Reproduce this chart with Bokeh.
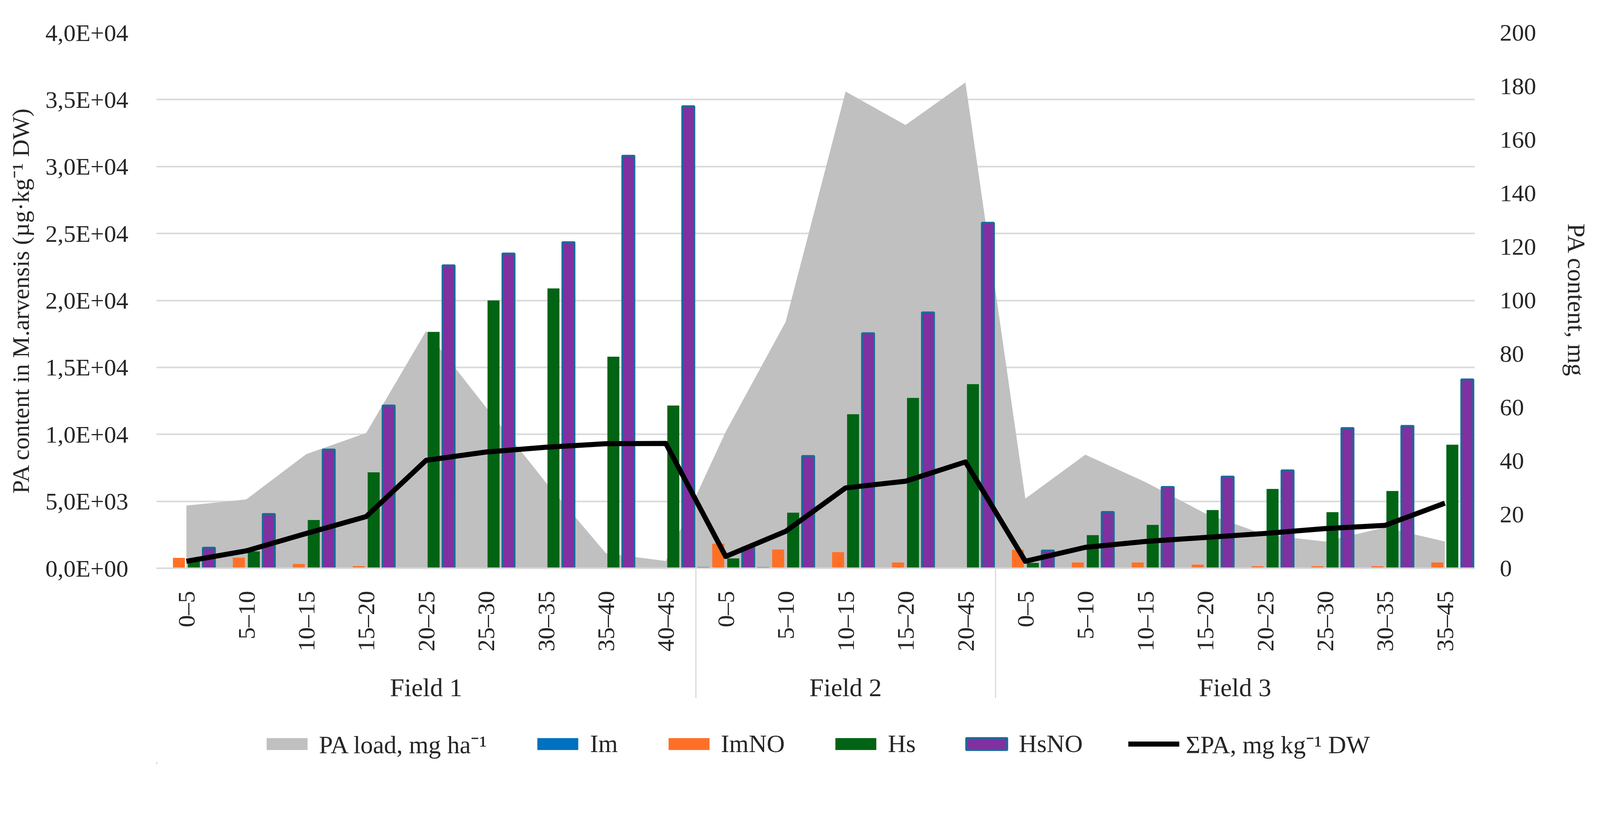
from math import pi

from bokeh.embed import file_html
from bokeh.layouts import column
from bokeh.models import (ColumnDataSource, FactorRange, FixedTicker, Legend,
                          LegendItem, LinearAxis, Range1d)
from bokeh.plotting import figure
from bokeh.resources import INLINE
from bokeh.transform import dodge

# categories
fields = ["Field 1", "Field 2", "Field 3"]
depths_f1 = ["0–5", "5–10", "10–15", "15–20", "20–25", "25–30", "30–35", "35–40", "40–45"]
depths_f2 = ["0–5", "5–10", "10–15", "15–20", "20–45"]
depths_f3 = ["0–5", "5–10", "10–15", "15–20", "20–25", "25–30", "30–35", "35–45"]

# bars, µg/kg DW (left axis)
im = [0, 0, 0, 0, 0, 0, 0, 0, 0,
      90, 90, 0, 0, 0,
      0, 0, 0, 0, 0, 0, 0, 0]
imno = [770, 790, 320, 160, 0, 0, 0, 0, 0,
        1830, 1400, 1200, 430, 0,
        1380, 430, 430, 270, 150, 150, 150, 430]
hs = [500, 1260, 3600, 7160, 17650, 20000, 20900, 15800, 12150,
      740, 4150, 11500, 12720, 13750,
      400, 2470, 3240, 4350, 5920, 4190, 5770, 9230]
hsno = [1530, 4050, 8860, 12150, 22620, 23500, 24350, 30800, 34500,
        1560, 8380, 17550, 19100, 25800,
        1320, 4200, 6070, 6840, 7310, 10470, 10630, 14100]

# right axis series
pa_load = [23.4, 25.7, 42.6, 50.5, 88.6, 60.1, 32.0, 5.6, 2.7,
           51.0, 92.0, 178.0, 165.5, 181.4,
           26.0, 42.4, 32.2, 20.5, 12.5, 10.0, 15.2, 10.0]
sum_pa = [2.6, 6.5, 13.0, 19.3, 40.3, 43.4, 45.2, 46.5, 46.6,
          4.4, 13.8, 30.0, 32.5, 39.7,
          2.6, 7.8, 10.0, 11.5, 13.0, 14.8, 16.0, 24.3]

left_ticks = [0, 5000, 10000, 15000, 20000, 25000, 30000, 35000, 40000]
left_tick_labels = ["0,0E+00", "5,0E+03", "1,0E+04", "1,5E+04", "2,0E+04",
                    "2,5E+04", "3,0E+04", "3,5E+04", "4,0E+04"]
right_ticks = [0, 20, 40, 60, 80, 100, 120, 140, 160, 180, 200]

series_names = ["PA load, mg ha⁻¹", "Im", "ImNO", "Hs", "HsNO", "ΣPA, mg kg⁻¹ DW"]

FONT = "Liberation Serif"
TXT = "#262626"
C_AREA, C_IM, C_IMNO, C_HS, C_HSNO, C_EDGE = ("#C0C0C0", "#0070C0", "#FF7027",
                                              "#006414", "#8030A0", "#1B6A9A")

factors = ([(fields[0], d) for d in depths_f1] +
           [(fields[1], d) for d in depths_f2] +
           [(fields[2], d) for d in depths_f3])

src = ColumnDataSource(data=dict(x=factors, im=im, imno=imno, hs=hs, hsno=hsno,
                                 load=pa_load, total=sum_pa))

p = figure(width=4076, height=1834, output_backend="svg", toolbar_location=None,
           x_range=FactorRange(*factors, factor_padding=0, group_padding=0,
                               subgroup_padding=0, range_padding=0),
           y_range=Range1d(0, 40000),
           min_border_left=400, min_border_right=301,
           min_border_top=83, min_border_bottom=380)
p.outline_line_color = None
p.extra_y_ranges = {"right": Range1d(0, 200)}

# grid
p.xgrid.grid_line_color = None
p.ygrid.ticker = FixedTicker(ticks=left_ticks)
p.ygrid.grid_line_color = "#D9D9D9"
p.ygrid.grid_line_width = 4

# area behind the bars
p.varea(x="x", y1=0, y2="load", source=src, y_range_name="right", fill_color=C_AREA)

w = 0.2
p.vbar(x=dodge("x", -0.375, range=p.x_range), top="im", width=w, source=src,
       fill_color=C_IM, line_color=None)
p.vbar(x=dodge("x", -0.125, range=p.x_range), top="imno", width=w, source=src,
       fill_color=C_IMNO, line_color=None)
p.vbar(x=dodge("x", 0.125, range=p.x_range), top="hs", width=w, source=src,
       fill_color=C_HS, line_color=None)
p.vbar(x=dodge("x", 0.375, range=p.x_range), top="hsno", width=w, source=src,
       fill_color=C_HSNO, line_color=C_EDGE, line_width=5)

p.line(x="x", y="total", source=src, y_range_name="right",
       line_color="black", line_width=13, line_join="round")

# left axis
ax = p.yaxis[0]
ax.ticker = FixedTicker(ticks=left_ticks)
ax.major_label_overrides = dict(zip(left_ticks, left_tick_labels))
ax.axis_label = "PA content in M.arvensis (µg·kg⁻¹ DW)"
ax.axis_label_text_font = FONT
ax.axis_label_text_font_style = "normal"
ax.axis_label_text_font_size = "62px"
ax.axis_label_text_color = TXT
ax.axis_label_standoff = 26
ax.major_label_text_font = FONT
ax.major_label_text_font_size = "62px"
ax.major_label_text_color = TXT
ax.major_label_standoff = 66
ax.axis_line_color = None
ax.major_tick_line_color = None
ax.minor_tick_line_color = None

# right axis
ax2 = LinearAxis(y_range_name="right", ticker=FixedTicker(ticks=right_ticks))
ax2.axis_label = "PA content, mg"
ax2.axis_label_text_font = FONT
ax2.axis_label_text_font_style = "normal"
ax2.axis_label_text_font_size = "64px"
ax2.axis_label_text_color = TXT
ax2.axis_label_standoff = 64
ax2.major_label_text_font = FONT
ax2.major_label_text_font_size = "62px"
ax2.major_label_text_color = TXT
ax2.major_label_standoff = 58
ax2.axis_line_color = None
ax2.major_tick_line_color = None
ax2.minor_tick_line_color = None
p.add_layout(ax2, "right")

# category axis: depth labels and field groups
xa = p.xaxis[0]
xa.major_label_orientation = pi / 2
xa.major_label_text_font = FONT
xa.major_label_text_font_size = "62px"
xa.major_label_text_color = TXT
xa.major_label_standoff = 52
xa.group_text_font = FONT
xa.group_text_font_style = "normal"
xa.group_text_font_size = "66px"
xa.group_text_color = TXT
xa.separator_line_color = "#D9D9D9"
xa.separator_line_width = 3
xa.axis_line_color = "#D9D9D9"
xa.axis_line_width = 4
xa.major_tick_line_color = None
xa.minor_tick_line_color = None

# legend strip under the chart: same glyph styles, placed outside the visible range
pl = figure(width=4076, height=120, output_backend="svg", toolbar_location=None,
            x_range=Range1d(0, 1), y_range=Range1d(0, 1),
            x_axis_location=None, y_axis_location=None,
            min_border_left=0, min_border_right=0, min_border_top=0, min_border_bottom=0)
pl.outline_line_color = None
pl.grid.visible = False
hidden = ColumnDataSource(data=dict(x=[-10, -9], y=[-10, -10], y2=[-9, -9]))
g_area = pl.varea(x="x", y1="y", y2="y2", source=hidden, fill_color=C_AREA)
g_im = pl.vbar(x="x", top="y2", bottom="y", width=0.1, source=hidden,
               fill_color=C_IM, line_color=None)
g_imno = pl.vbar(x="x", top="y2", bottom="y", width=0.1, source=hidden,
                 fill_color=C_IMNO, line_color=None)
g_hs = pl.vbar(x="x", top="y2", bottom="y", width=0.1, source=hidden,
               fill_color=C_HS, line_color=None)
g_hsno = pl.vbar(x="x", top="y2", bottom="y", width=0.1, source=hidden,
                 fill_color=C_HSNO, line_color=C_EDGE, line_width=5)
g_line = pl.line(x="x", y="y", source=hidden, line_color="black", line_width=13)

legend = Legend(items=[LegendItem(label=n, renderers=[r]) for n, r in
                       zip(series_names, [g_area, g_im, g_imno, g_hs, g_hsno, g_line])],
                orientation="horizontal", location="top_center")
legend.border_line_color = None
legend.background_fill_alpha = 0
legend.label_text_font = FONT
legend.label_text_font_size = "64px"
legend.label_text_color = TXT
legend.glyph_width = 131
legend.glyph_height = 38
legend.label_standoff = 17
legend.spacing = 116
legend.padding = 10
legend.margin = 26
pl.add_layout(legend, "center")

open("out.html", "w").write(file_html(column(p, pl, spacing=0), INLINE))
